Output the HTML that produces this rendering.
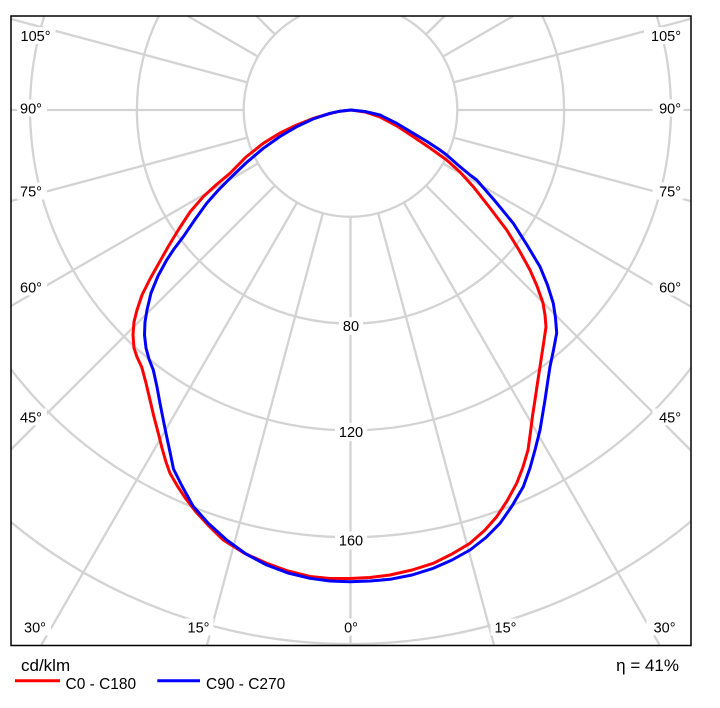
<!DOCTYPE html>
<html>
<head>
<meta charset="utf-8">
<style>
  html, body { margin:0; padding:0; background:#fff; width:720px; height:708px; overflow:hidden; }
  svg { display:block; overflow:hidden; }
  .lbl { font-family:"Liberation Sans", Arial, sans-serif; font-size:14.5px; fill:#000; }
  .big { font-family:"Liberation Sans", Arial, sans-serif; font-size:17px; fill:#000; }
  .leg { font-family:"Liberation Sans", Arial, sans-serif; font-size:15.5px; fill:#000; }
</style>
</head>
<body>
<svg width="720" height="708" viewBox="0 0 720 708" xmlns="http://www.w3.org/2000/svg">
  <rect x="0" y="0" width="720" height="708" fill="#fff"/>

  <g stroke="#d3d3d3" stroke-width="2.3" fill="none">
    <path d="M299.8,16 A106.8,106.8 0 1 0 401.2,16"/>
    <path d="M158.7,16 A213.6,213.6 0 1 0 542.3,16"/>
    <path d="M44.2,16 A320.4,320.4 0 1 0 656.8,16"/>
    <path d="M11,369.3 A427.2,427.2 0 0 0 691,368"/>
    <path d="M11,522.2 A534,534 0 0 0 691,521.4"/>
    <line x1="350.5" y1="216.8" x2="350.5" y2="645"/>
    <line x1="322.86" y1="213.16" x2="207" y2="645"/>
    <line x1="378.14" y1="213.16" x2="494" y2="645"/>
    <line x1="297.1" y1="202.49" x2="41.3" y2="645"/>
    <line x1="403.9" y1="202.49" x2="659.7" y2="645"/>
    <line x1="274.98" y1="185.52" x2="11" y2="449.5"/>
    <line x1="426.02" y1="185.52" x2="691" y2="450.5"/>
    <line x1="258.01" y1="163.4" x2="11" y2="306"/>
    <line x1="442.99" y1="163.4" x2="691" y2="306.6"/>
    <line x1="247.34" y1="137.64" x2="11" y2="201"/>
    <line x1="453.66" y1="137.64" x2="691" y2="201.2"/>
    <line x1="243.7" y1="110" x2="11" y2="110"/>
    <line x1="457.3" y1="110" x2="691" y2="110"/>
    <line x1="247.34" y1="82.36" x2="11" y2="19"/>
    <line x1="453.66" y1="82.36" x2="691" y2="18.8"/>
    <line x1="258.01" y1="56.6" x2="187.7" y2="16"/>
    <line x1="442.99" y1="56.6" x2="513.3" y2="16"/>
    <line x1="274.98" y1="34.48" x2="256.5" y2="16"/>
    <line x1="426.02" y1="34.48" x2="444.5" y2="16"/>
    <line x1="297.1" y1="17.51" x2="296.2" y2="16"/>
    <line x1="403.9" y1="17.51" x2="404.8" y2="16"/>
  </g>

  <!-- label backgrounds -->
  <g fill="#fff">
    <rect x="17.5" y="27" width="38" height="17"/>
    <rect x="17" y="99.5" width="30" height="17"/>
    <rect x="17" y="182.5" width="30" height="17"/>
    <rect x="17" y="278.5" width="30" height="17"/>
    <rect x="17" y="408.5" width="30" height="17"/>
    <rect x="21" y="618.5" width="30" height="17"/>
    <rect x="183.5" y="618.5" width="30" height="17"/>
    <rect x="339" y="618.5" width="24" height="17"/>
    <rect x="490.5" y="618.5" width="30" height="17"/>
    <rect x="646.5" y="618.5" width="32" height="17"/>
    <rect x="644" y="27" width="40" height="17"/>
    <rect x="652.5" y="99.5" width="31" height="17"/>
    <rect x="652.5" y="182.5" width="31" height="17"/>
    <rect x="652.5" y="278.5" width="31" height="17"/>
    <rect x="652.5" y="408.5" width="31" height="17"/>
    <rect x="339" y="317" width="24" height="18"/>
    <rect x="335" y="423" width="32" height="18"/>
    <rect x="335" y="531.5" width="32" height="18"/>
  </g>

  <g class="lbl">
    <text x="20.5" y="41">105°</text>
    <text x="20" y="113.5">90°</text>
    <text x="20" y="196.5">75°</text>
    <text x="20" y="292.5">60°</text>
    <text x="20" y="422.5">45°</text>
    <text x="24" y="632.5">30°</text>
    <text x="198.5" y="632.5" text-anchor="middle">15°</text>
    <text x="351" y="632.5" text-anchor="middle">0°</text>
    <text x="505.5" y="632.5" text-anchor="middle">15°</text>
    <text x="675.5" y="632.5" text-anchor="end">30°</text>
    <text x="681" y="41" text-anchor="end">105°</text>
    <text x="681" y="113.5" text-anchor="end">90°</text>
    <text x="681" y="196.5" text-anchor="end">75°</text>
    <text x="681" y="292.5" text-anchor="end">60°</text>
    <text x="681" y="422.5" text-anchor="end">45°</text>
    <text x="351" y="331" text-anchor="middle">80</text>
    <text x="351" y="437" text-anchor="middle">120</text>
    <text x="351" y="545.5" text-anchor="middle">160</text>
  </g>

  <!-- red C0 - C180 -->
  <polyline fill="none" stroke="#ff0000" stroke-width="3" stroke-linejoin="round" stroke-linecap="round"
    points="351,110 340,111.2 330,113.5 313,118.5 296.7,125 280,133 263.3,143.3 246,157 230,173.3 216,185 203.3,196.7 190,212 178.3,230 168,247 159,263 150,279 142,295 137,310 134,322 133,335 134,348 137,357 141.7,367 146,383 150,400 154,417 158.3,433.3 162,448 166,462 170,473.3 178,487 186,499 196,512 208,525 223.3,540 244,553 266.7,563.3 288,571 310,576.5 330,578.5 350,578.5 370,577.5 390,575 412,570 433.3,563.3 452,554 470,543.3 485,530 496.7,516.7 507,501 516.7,483.3 523,467 528,450 530.5,432 532.5,416 535,400 537.5,383 540,366.7 543,347 546,327 545,315 543,303 537,286 530,270 519,250 506.7,230 490,208 473.3,186.7 460,172 446.7,160 430,148 413.3,136.7 397,126 380,117 365,112 351,110"/>

  <!-- blue C90 - C270 -->
  <polyline fill="none" stroke="#0000ff" stroke-width="3" stroke-linejoin="round" stroke-linecap="round"
    points="351,110 340,111.2 330,113.3 313,119 296.7,126.7 280,136.5 263.3,148.3 246,163 230,178.3 218,190.5 206.7,203.3 195,219.5 183.3,236.7 174,249 166.7,260 158,276 151,293 147,310 145,322 144.5,335 146,348 149,359 153.3,370 157,387 160,403.3 163.3,420 166.7,436.7 170,452 173.5,469 182,486 193,506 208,523 226.7,540 246,554 266.7,565 288,573 310,578.3 330,581 350,581.7 370,581 390,579.3 412,575 433.3,568.3 452,560 470,550 486,537.5 500,523.3 512,506 523.3,486.7 530,468 535,450 538,438 540,430 542.5,415 545,400 547.5,383 550,366.7 553.5,350 556.7,333 555.5,318 553.3,303.3 547.5,285 540,266.7 527,245 513.3,223.3 495,201 476.7,180 470,175 458,165 446.7,155 440,150 427,141.5 413.3,133.3 397,123.5 380,115 365,111.5 351,110"/>

  <!-- frame -->
  <rect x="11" y="16" width="680" height="629.5" fill="none" stroke="#000" stroke-width="1.5"/>

  <!-- footer -->
  <text class="big" x="21" y="671">cd/klm</text>
  <text class="big" x="679" y="671" text-anchor="end">η = 41%</text>
  <line x1="15" y1="680.7" x2="60" y2="680.7" stroke="#ff0000" stroke-width="3"/>
  <text class="leg" x="65.5" y="689">C0 - C180</text>
  <line x1="157.3" y1="680.7" x2="200" y2="680.7" stroke="#0000ff" stroke-width="3"/>
  <text class="leg" x="206" y="689">C90 - C270</text>
</svg>
</body>
</html>
